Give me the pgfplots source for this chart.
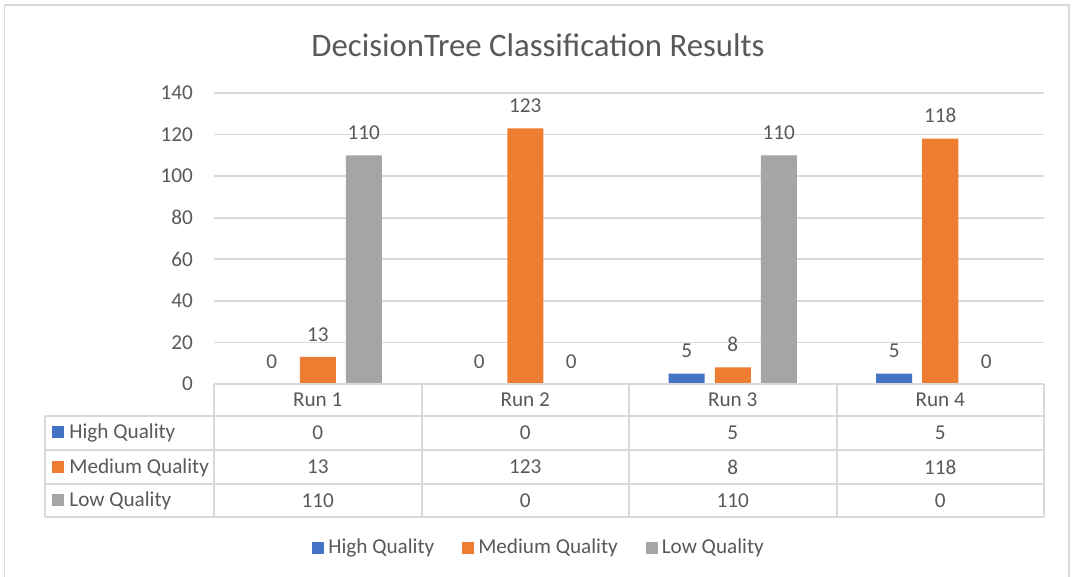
\documentclass[border=0pt]{standalone}
\usepackage{fontspec}
\setmainfont{Carlito}
\usepackage{pgfplots}
\pgfplotsset{compat=1.18}
\definecolor{cHigh}{HTML}{4472C4}
\definecolor{cMed}{HTML}{ED7D31}
\definecolor{cLow}{HTML}{A5A5A5}
\definecolor{txt}{HTML}{595959}
\definecolor{gridc}{HTML}{D9D9D9}
\newcommand{\lbl}{\fontsize{10.6}{12.7}\selectfont}
\begin{document}
\begin{tikzpicture}[x=0.5pt,y=0.5pt]
\path[use as bounding box, fill=white] (0,0) rectangle (1072,577);
\draw[gridc, line width=0.8pt] (4.5,-20) rectangle (1069,572);
\node[text=txt, font=\fontsize{16.4}{19.7}\selectfont] at (538,532) {DecisionTree Classification Results};
\begin{axis}[at={(107pt,96.5pt)}, anchor=south west, scale only axis,
  width=415pt, height=145.5pt,
  ybar=5pt, bar width=18pt,
  xmin=0, xmax=4, ymin=0, ymax=140,
  ytick={0,20,...,140}, xtick=\empty,
  axis line style={draw=none}, major tick length=0pt,
  ymajorgrids, grid style={gridc, line width=0.8pt},
  yticklabel style={font=\lbl, text=txt, xshift=-7pt},
  /pgf/number format/assume math mode=true,
  nodes near coords,
  every node near coord/.append style={font=\lbl, text=txt, yshift=4.3pt},
  clip=false,
  legend columns=3,
  legend style={at={(0.3928,-0.5636)}, anchor=center, draw=none, fill=none,
    font=\lbl, text=txt,
    /tikz/every even column/.append style={column sep=12pt}},
  legend image code/.code={\fill[#1] (0pt,-3pt) rectangle (6pt,3pt);},
]
\addplot[fill=cHigh, draw=none] coordinates {(0.5,0) (1.5,0) (2.5,5) (3.5,5)};
\addplot[fill=cMed, draw=none] coordinates {(0.5,13) (1.5,123) (2.5,8) (3.5,118)};
\addplot[fill=cLow, draw=none] coordinates {(0.5,110) (1.5,0) (2.5,110) (3.5,0)};
\legend{High Quality, Medium Quality, Low Quality}
\end{axis}
% data table
\begin{scope}[gridc, line width=1pt]
\draw (214,193) -- (1044,193);
\foreach \y in {161,127,93,60} \draw (45,\y) -- (1044,\y);
\foreach \x in {214,421.5,629,836.5,1044} \draw (\x,193) -- (\x,60);
\draw (45,161) -- (45,60);
\end{scope}
\begin{scope}[every node/.style={text=txt, font=\lbl}]
\node at (317.75,177) {Run 1};
\node at (525.25,177) {Run 2};
\node at (732.75,177) {Run 3};
\node at (940.25,177) {Run 4};
\fill[cHigh] (52,139) rectangle (64,151);
\fill[cMed] (52,104) rectangle (64,116);
\fill[cLow] (52,70.5) rectangle (64,82.5);
\node[anchor=west, inner sep=0pt] at (69,144) {High Quality};
\node[anchor=west, inner sep=0pt] at (69,109.5) {Medium Quality};
\node[anchor=west, inner sep=0pt] at (69,76) {Low Quality};
\node at (317.75,144) {0};
\node at (525.25,144) {0};
\node at (732.75,144) {5};
\node at (940.25,144) {5};
\node at (317.75,110) {13};
\node at (525.25,110) {123};
\node at (732.75,110) {8};
\node at (940.25,110) {118};
\node at (317.75,76.5) {110};
\node at (525.25,76.5) {0};
\node at (732.75,76.5) {110};
\node at (940.25,76.5) {0};
\end{scope}
\end{tikzpicture}
\end{document}
